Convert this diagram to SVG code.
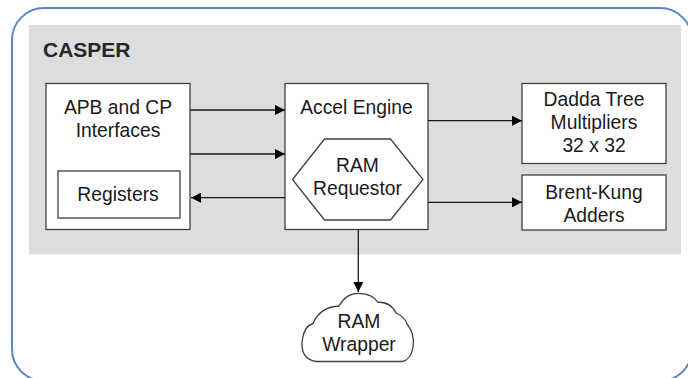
<svg xmlns="http://www.w3.org/2000/svg" width="688" height="378" viewBox="0 0 688 378">
<defs>
<style>
.box{fill:#ffffff;stroke:#404040;stroke-width:1.3}
.t{font-family:"Liberation Sans",Arial,sans-serif;font-size:19.3px;fill:#1a1a1a;text-anchor:middle}
.ttl{font-family:"Liberation Sans",Arial,sans-serif;font-size:21px;font-weight:bold;fill:#262626}
.ln{fill:none;stroke:#1a1a1a;stroke-width:1.3}
</style>
<marker id="ah" viewBox="0 0 10 10" refX="10" refY="5" markerWidth="10" markerHeight="10" markerUnits="userSpaceOnUse" orient="auto">
<path d="M0,0 L10,5 L0,10 Z" fill="#000000"/>
</marker>
</defs>
<rect id="frame" x="12" y="8" width="680" height="373" rx="32" ry="32" fill="#ffffff" stroke="#5b87c8" stroke-width="2"/>
<g id="casper">
<rect x="29" y="25" width="652" height="229.5" fill="#dcdddf"/>
<text class="ttl" x="43" y="57">CASPER</text>
</g>
<g id="apb">
<rect class="box" x="46" y="83.5" width="144" height="146"/>
<text class="t" x="118" y="114">APB and CP</text>
<text class="t" x="118" y="136.7">Interfaces</text>
</g>
<g id="registers">
<rect class="box" x="58" y="171" width="122" height="47"/>
<text class="t" x="118" y="201">Registers</text>
</g>
<g id="accel">
<rect class="box" x="285" y="83.5" width="143" height="146"/>
<text class="t" x="356.5" y="114">Accel Engine</text>
</g>
<g id="requestor">
<polygon class="box" points="292.5,179.5 324.5,139 390.5,139 423,179.5 390.5,220 324.5,220"/>
<text class="t" x="357.5" y="172.3">RAM</text>
<text class="t" x="357.5" y="195">Requestor</text>
</g>
<g id="dadda">
<rect class="box" x="522" y="83.5" width="144" height="80"/>
<text class="t" x="594" y="106">Dadda Tree</text>
<text class="t" x="594" y="129.3">Multipliers</text>
<text class="t" x="594" y="151.7">32 x 32</text>
</g>
<g id="brentkung">
<rect class="box" x="522" y="175" width="144" height="55"/>
<text class="t" x="594" y="199.3">Brent-Kung</text>
<text class="t" x="594" y="222.3">Adders</text>
</g>
<g id="wrapper">
<path class="box" d="M316,361.5 Q300,359 302.3,340 Q304,326 313,323.5 Q320,307 339,306 Q346,293 359,293.3 Q373,294 377.5,302 Q391,302 396,313 Q405,317 407,324 Q415,334 413,347 Q411,360 402,361.5 Z"/>
<text class="t" x="359" y="328.3">RAM</text>
<text class="t" x="359" y="350.7">Wrapper</text>
</g>
<g id="connectors">
<line class="ln" x1="190" y1="110" x2="285" y2="110" marker-end="url(#ah)"/>
<line class="ln" x1="190" y1="154" x2="285" y2="154" marker-end="url(#ah)"/>
<line class="ln" x1="285" y1="197.7" x2="191" y2="197.7" marker-end="url(#ah)"/>
<line class="ln" x1="428" y1="120.7" x2="522" y2="120.7" marker-end="url(#ah)"/>
<line class="ln" x1="428" y1="202.3" x2="522" y2="202.3" marker-end="url(#ah)"/>
<line class="ln" x1="358.3" y1="229.5" x2="358.3" y2="292" marker-end="url(#ah)"/>
</g>
</svg>
